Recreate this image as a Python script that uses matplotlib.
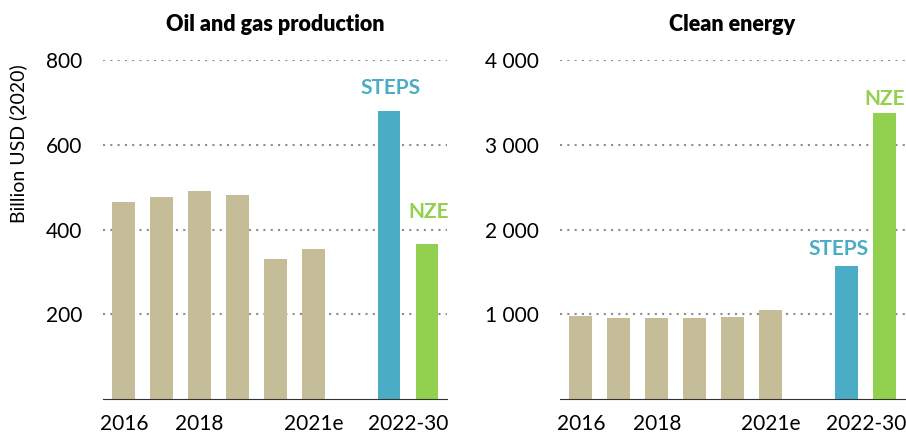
import matplotlib.pyplot as plt

plt.rcParams['font.family'] = ['Lato', 'DejaVu Sans']

# data
years = ['2016', '2017', '2018', '2019', '2020', '2021e']
oil_gas = [466, 476, 490, 481, 330, 355]
oil_gas_steps = 680
oil_gas_nze = 366
clean = [979, 960, 960, 952, 968, 1047]
clean_steps = 1569
clean_nze = 3371

tan = '#C4BD97'
blue = '#4BACC6'
green = '#92D050'

fig = plt.figure(figsize=(9.06, 4.36), dpi=100)
ax1 = fig.add_axes([103 / 906, 1 - 399 / 436, 344 / 906, 339 / 436])
ax2 = fig.add_axes([560 / 906, 1 - 399 / 436, 345 / 906, 339 / 436])


def draw(ax, hist, steps, nze, ymax, step, fmt, title, off_steps, off_nze):
    x = list(range(len(hist)))
    ax.bar(x, hist, width=0.6, color=tan, zorder=3)
    ax.bar(len(hist) + 1, steps, width=0.6, color=blue, zorder=3)
    ax.bar(len(hist) + 2, nze, width=0.6, color=green, zorder=3)
    ax.set_xlim(-0.55, len(hist) + 2.53)
    ax.set_ylim(0, ymax)
    ticks = list(range(step, ymax + 1, step))
    ax.set_yticks(ticks)
    ax.set_yticklabels([fmt(t) for t in ticks], fontsize=15)
    for t in ticks:
        ax.axhline(t, color='#8c8c8c', lw=1.5, ls=(0, (1, 2.5)), zorder=1)
    xt = [0, 2, 5, len(hist) + 1.5]
    ax.set_xticks(xt)
    ax.set_xticklabels(['2016', '2018', '2021e', '2022-30'], fontsize=15)
    ax.tick_params(length=0, pad=11)
    ax.tick_params(axis='y', pad=15)
    for s in ['top', 'right', 'left']:
        ax.spines[s].set_visible(False)
    ax.spines['bottom'].set_color('#333333')
    ax.spines['bottom'].set_zorder(4)
    ax.set_title(title, fontsize=15.5, fontweight='heavy', pad=21)
    ax.annotate('STEPS', (len(hist) + 1, steps), xytext=off_steps,
                textcoords='offset points', ha='center', va='bottom',
                color=blue, fontsize=15, fontweight='bold', annotation_clip=False)
    ax.annotate('NZE', (len(hist) + 2, nze), xytext=off_nze,
                textcoords='offset points', ha='center', va='bottom',
                color=green, fontsize=15, fontweight='bold', annotation_clip=False)


draw(ax1, oil_gas, oil_gas_steps, oil_gas_nze, 800, 200, lambda v: f'{v}',
     'Oil and gas production', (1, 9), (1, 16))
draw(ax2, clean, clean_steps, clean_nze, 4000, 1000,
     lambda v: f'{v:,}'.replace(',', ' '),
     'Clean energy', (-6, 5), (0, 3))

fig.text(18 / 906, 1 - 144 / 436, 'Billion USD (2020)', rotation=90,
         ha='center', va='center', fontsize=14)

fig.savefig('out.png', dpi=100)
